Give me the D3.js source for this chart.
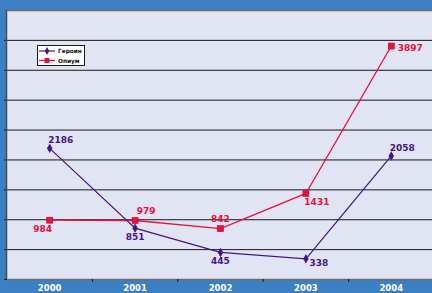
<!DOCTYPE html>
<html>
<head>
<meta charset="utf-8">
<script src="https://cdn.jsdelivr.net/npm/d3@7"></script>
<style>
  html, body { margin: 0; padding: 0; background: #3b80c3; }
  svg { display: block; }
</style>
</head>
<body>
<div id="chart"></div>
<script>
// Data
const years = ['2000', '2001', '2002', '2003', '2004'];
const heroin = [2186, 851, 445, 338, 2058];
const opium = [984, 979, 842, 1431, 3897];
const seriesNames = ['Героин', 'Опиум'];
const yTicks = [0, 500, 1000, 1500, 2000, 2500, 3000, 3500, 4000, 4500];

// Config
const width = 432;
const height = 293;
const plot = { left: 7, right: 434, top: 10, bottom: 279 };
const heroinColor = '#44168a';
const opiumColor = '#e8103f';
const font = '"DejaVu Sans", sans-serif';

const x = d3.scaleBand()
  .domain(years)
  .range([plot.left, plot.right]);

const y = d3.scaleLinear()
  .domain([0, 4500])
  .range([plot.bottom, plot.top]);

const svg = d3.select('#chart').append('svg')
  .attr('width', width)
  .attr('height', height);

// Background
svg.append('rect')
  .attr('width', width)
  .attr('height', height)
  .attr('fill', '#3b80c3');

svg.append('rect')
  .attr('x', plot.left)
  .attr('y', plot.top)
  .attr('width', plot.right - plot.left)
  .attr('height', plot.bottom - plot.top)
  .attr('fill', '#e0e4f3');

// Grid lines
svg.append('g')
  .selectAll('line')
  .data(yTicks.slice(1))
  .join('line')
  .attr('x1', plot.left - 3)
  .attr('x2', plot.right)
  .attr('y1', d => y(d) + 0.5)
  .attr('y2', d => y(d) + 0.5)
  .attr('stroke', d => d === 4500 ? '#6d6d72' : '#1a1a1a')
  .attr('stroke-width', d => d === 4500 ? 1.5 : 1);

// X axis
svg.append('g')
  .attr('transform', `translate(0,${plot.bottom})`)
  .call(d3.axisBottom(x).tickSize(0).tickFormat(''))
  .call(g => g.select('.domain').attr('stroke', '#6d6d72').attr('stroke-width', 1.5));

svg.append('g')
  .selectAll('line')
  .data(years.slice(1))
  .join('line')
  .attr('x1', d => x(d))
  .attr('x2', d => x(d))
  .attr('y1', plot.bottom)
  .attr('y2', plot.bottom + 3)
  .attr('stroke', '#1a1a1a');

svg.append('g')
  .selectAll('text')
  .data(years)
  .join('text')
  .attr('x', d => x(d) + x.bandwidth() / 2)
  .attr('y', 291)
  .attr('text-anchor', 'middle')
  .attr('font-family', font)
  .attr('font-size', 8.5)
  .attr('font-weight', 'bold')
  .attr('fill', '#ffffff')
  .text(d => d);

// Y axis line
svg.append('line')
  .attr('x1', plot.left - 0.5)
  .attr('x2', plot.left - 0.5)
  .attr('y1', plot.top)
  .attr('y2', plot.bottom + 1)
  .attr('stroke', '#4a4a55')
  .attr('stroke-width', 1.5);

svg.append('line')
  .attr('x1', plot.left - 3)
  .attr('x2', plot.left)
  .attr('y1', plot.bottom + 0.5)
  .attr('y2', plot.bottom + 0.5)
  .attr('stroke', '#1a1a1a');

const cx = d => x(d) + x.bandwidth() / 2;

const line = d3.line()
  .x(d => cx(d.year))
  .y(d => y(d.value));

const heroinData = years.map((yr, i) => ({ year: yr, value: heroin[i] }));
const opiumData = years.map((yr, i) => ({ year: yr, value: opium[i] }));

// Lines
svg.append('path')
  .datum(opiumData)
  .attr('d', line)
  .attr('fill', 'none')
  .attr('stroke', opiumColor)
  .attr('stroke-width', 1.3);

svg.append('path')
  .datum(heroinData)
  .attr('d', line)
  .attr('fill', 'none')
  .attr('stroke', heroinColor)
  .attr('stroke-width', 1.2);

// Markers
svg.append('g')
  .selectAll('rect')
  .data(opiumData)
  .join('rect')
  .attr('x', d => cx(d.year) - 3)
  .attr('y', d => y(d.value) - 3)
  .attr('width', 6)
  .attr('height', 6)
  .attr('fill', opiumColor)
  .attr('stroke', '#c8002c')
  .attr('stroke-width', 0.6);

svg.append('g')
  .selectAll('path')
  .data(heroinData)
  .join('path')
  .attr('d', d3.symbol(d3.symbolDiamond, 26))
  .attr('transform', d => `translate(${cx(d.year)},${y(d.value)})`)
  .attr('fill', heroinColor);

// Value labels (dx, dy offsets relative to the point)
const heroinOffsets = [[11, -5], [0, 12], [0, 12], [13, 7], [11, -5]];
const opiumOffsets = [[-7, 12], [11, -6], [0, -7], [11, 12], [19, 5]];

const labels = (data, offsets, color) => svg.append('g')
  .selectAll('text')
  .data(data)
  .join('text')
  .attr('x', (d, i) => cx(d.year) + offsets[i][0])
  .attr('y', (d, i) => y(d.value) + offsets[i][1])
  .attr('text-anchor', 'middle')
  .attr('font-family', font)
  .attr('font-size', 9)
  .attr('font-weight', 'bold')
  .attr('fill', color)
  .text(d => d.value);

labels(heroinData, heroinOffsets, heroinColor);
labels(opiumData, opiumOffsets, opiumColor);

// Legend
const legend = svg.append('g').attr('transform', 'translate(37,45)');
legend.append('rect')
  .attr('x', 0.5)
  .attr('y', 0.5)
  .attr('width', 47)
  .attr('height', 20)
  .attr('fill', '#ffffff')
  .attr('stroke', '#1a1a1a');

const entries = [
  { name: seriesNames[0], color: heroinColor, shape: 'diamond' },
  { name: seriesNames[1], color: opiumColor, shape: 'square' }
];

entries.forEach((e, i) => {
  const yy = 6 + i * 9.5;
  legend.append('line')
    .attr('x1', 2).attr('x2', 18)
    .attr('y1', yy).attr('y2', yy)
    .attr('stroke', e.color)
    .attr('stroke-width', 1.2);
  if (e.shape === 'square') {
    legend.append('rect')
      .attr('x', 7.5).attr('y', yy - 2.5)
      .attr('width', 5).attr('height', 5)
      .attr('fill', e.color);
  } else {
    legend.append('path')
      .attr('d', d3.symbol(d3.symbolDiamond, 18))
      .attr('transform', `translate(10,${yy})`)
      .attr('fill', e.color);
  }
  legend.append('text')
    .attr('x', 21)
    .attr('y', yy + 2)
    .attr('font-family', font)
    .attr('font-size', 5.8)
    .attr('font-weight', 'bold')
    .attr('fill', '#111111')
    .text(e.name);
});
</script>
</body>
</html>
